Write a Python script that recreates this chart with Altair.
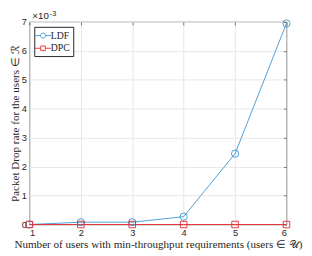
import altair as alt
import pandas as pd

users = [1, 2, 3, 4, 5, 6]
ldf = [0.0, 0.08, 0.08, 0.27, 2.45, 6.95]   # x 10^-3
dpc = [0.0, 0.0, 0.0, 0.0, 0.0, 0.0]
series = ["LDF", "DPC"]
colors = ["#3a94d2", "#e8262d"]
x_ticks = [1, 2, 3, 4, 5, 6]
y_ticks = [0, 1, 2, 3, 4, 5, 6, 7]

df = pd.DataFrame({
    "users": users * 2,
    "rate": ldf + dpc,
    "series": ["LDF"] * len(users) + ["DPC"] * len(users),
})

SERIF = "Liberation Serif"
SANS = "Liberation Sans"

color_scale = alt.Scale(domain=series, range=colors)
xs = alt.Scale(domain=[1, 6], nice=False, zero=False)
ys = alt.Scale(domain=[0, 7], nice=False, zero=False)

x_axis = alt.Axis(values=x_ticks, tickCount=6, title="Number of users with min-throughput requirements (users \u2208 \U0001D4B0)",
                  labelFont=SANS, labelFontSize=9.5, labelColor="#262626",
                  titleFont=SERIF, titleFontSize=11.4, titleFontWeight="normal", titleColor="#262626",
                  domain=False, ticks=False, labelOverlap=False,
                  grid=True, gridColor="#e6e6e6", labelPadding=3, titlePadding=2)
y_axis = alt.Axis(values=y_ticks, tickCount=8, title="Packet Drop rate for the users \u2208 \u211B",
                  labelFont=SANS, labelFontSize=9.5, labelColor="#262626",
                  titleFont=SERIF, titleFontSize=11.4, titleFontWeight="normal", titleColor="#262626",
                  domain=False, ticks=False, labelOverlap=False,
                  grid=True, gridColor="#e6e6e6", labelPadding=3, titlePadding=1)
x_top = alt.Axis(values=x_ticks, tickCount=6, orient="top", title=None, labels=False, domain=False,
                 grid=False, ticks=True, tickSize=3, offset=-3, tickColor="#555555", tickWidth=0.8)
y_right = alt.Axis(values=y_ticks, tickCount=8, orient="right", title=None, labels=False, domain=False,
                   grid=False, ticks=True, tickSize=3, offset=-3, tickColor="#555555", tickWidth=0.8)

X = alt.X("users:Q", scale=xs, axis=x_axis)
Y = alt.Y("rate:Q", scale=ys, axis=y_axis)
leg = alt.Legend(title=None)
C = alt.Color("series:N", scale=color_scale, legend=leg)

base = alt.Chart(df)

lines = base.mark_line(strokeWidth=0.9).encode(x=X, y=Y, color=C, detail="series:N")

pts_ldf = base.transform_filter(alt.datum.series == "LDF").mark_point(
    shape="circle", filled=False, size=55, strokeWidth=0.9, opacity=1).encode(x=X, y=Y, color=C)
pts_dpc = base.transform_filter(alt.datum.series == "DPC").mark_point(
    shape="square", filled=False, size=45, strokeWidth=0.9, opacity=1).encode(x=X, y=Y, color=C)

circ = "M-1.6,0H-0.5M0.5,0H1.6M0.5,0A0.5,0.5,0,1,1,-0.5,0A0.5,0.5,0,1,1,0.5,0Z"
sq = "M-1.6,0H-0.45M0.45,0H1.6M-0.45,-0.45H0.45V0.45H-0.45Z"
legend_layer = base.transform_filter("false").mark_point(filled=False, strokeWidth=0.9, opacity=1).encode(
    x=X, y=Y, color=C,
    shape=alt.Shape("series:N", scale=alt.Scale(domain=series, range=[circ, sq]), legend=leg),
)

main = alt.layer(lines, pts_ldf, pts_dpc, legend_layer)

ticks_layer = base.transform_filter("false").mark_point(opacity=0).encode(
    x=alt.X("users:Q", scale=xs, axis=x_top),
    y=alt.Y("rate:Q", scale=ys, axis=y_right),
)

# exponent annotation
exp_base = alt.Chart(pd.DataFrame({"t": ["\u00d710"]})).mark_text(
    font=SANS, fontSize=10, color="#262626", align="left", baseline="bottom").encode(
    x=alt.value(3), y=alt.value(-1), text="t:N")
exp_sup = alt.Chart(pd.DataFrame({"t": ["-3"]})).mark_text(
    font=SANS, fontSize=7.5, color="#262626", align="left", baseline="bottom").encode(
    x=alt.value(21), y=alt.value(-4), text="t:N")

chart = alt.layer(main, ticks_layer, exp_base, exp_sup).resolve_axis(
    x="independent", y="independent").properties(
    width=264, height=208,
    autosize=alt.AutoSizeParams(type="none"),
    padding={"left": 22, "top": 11, "right": 18, "bottom": 30},
).configure_view(stroke="#262626", strokeWidth=0.8).configure_legend(
    orient="none", legendX=5, legendY=5, labelFont=SERIF, labelFontSize=10, labelColor="#262626",
    strokeColor="#262626", fillColor="white", padding=3, rowPadding=2,
    symbolSize=110, symbolStrokeWidth=0.9, labelOffset=2, symbolOpacity=1,
)

chart.save("out.html", embed_options={"renderer": "svg", "actions": False})
